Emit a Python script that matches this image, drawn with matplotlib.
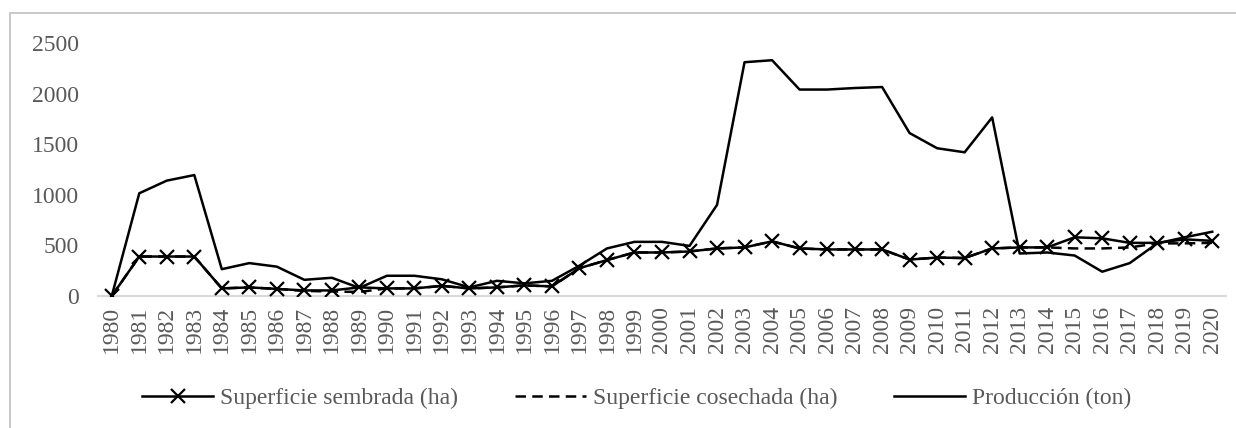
import matplotlib
matplotlib.use("Agg")
import matplotlib.pyplot as plt
from matplotlib.patches import Rectangle

plt.rcParams['font.family'] = ['Liberation Serif', 'DejaVu Serif']

years = list(range(1980, 2021))

# Superficie sembrada (ha)
sembrada = [0, 390, 390, 390, 75, 85, 70, 55, 55, 85,
            75, 75, 100, 75, 85, 105, 95, 275, 355, 430,
            430, 440, 470, 480, 540, 470, 460, 460, 460, 360,
            380, 375, 470, 480, 480, 580, 570, 525, 525, 560,
            545]

# Superficie cosechada (ha)
cosechada = [0, 390, 390, 390, 75, 85, 70, 50, 45, 40,
             75, 75, 100, 75, 85, 105, 95, 275, 355, 430,
             430, 440, 470, 480, 540, 470, 460, 460, 460, 360,
             380, 375, 470, 480, 480, 470, 470, 480, 520, 520,
             525]

# Produccion (ton)
produccion = [0, 1015, 1140, 1195, 265, 325, 290, 160, 180, 80,
              200, 200, 165, 85, 150, 125, 150, 300, 470, 535,
              535, 495, 900, 2310, 2330, 2040, 2040, 2055, 2065, 1610,
              1460, 1420, 1765, 420, 430, 400, 240, 325, 520, 580,
              635]

yticks = [0, 500, 1000, 1500, 2000, 2500]

grey = '#595959'

fig = plt.figure(figsize=(12.36, 4.28), dpi=100)
ax = fig.add_axes([98 / 1236, 1 - 296 / 428, 1128 / 1236, 253 / 428])

x = list(range(len(years)))
ax.plot(x, sembrada, color='black', lw=1.8, marker='x', markersize=10,
        markeredgewidth=1.6, label='Superficie sembrada (ha)', zorder=3)
ax.plot(x, cosechada, color='black', lw=1.8, linestyle=(0, (4.2, 2.5)),
        label='Superficie cosechada (ha)', zorder=2)
ax.plot(x, produccion, color='black', lw=1.8, label='Producción (ton)', zorder=2)

ax.set_xlim(-0.5, len(years) - 0.5)
ax.set_ylim(0, 2500)
ax.set_yticks(yticks)
ax.set_yticklabels([str(v) for v in yticks])
ax.set_xticks(x)
ax.set_xticklabels([str(y) for y in years], rotation=90)

for side in ['top', 'right', 'left']:
    ax.spines[side].set_visible(False)
ax.spines['bottom'].set_color('#d9d9d9')
ax.spines['bottom'].set_linewidth(1.5)
ax.spines['bottom'].set_zorder(1)

ax.tick_params(axis='both', length=0, labelsize=17, labelcolor=grey)
ax.tick_params(axis='y', pad=14)
ax.tick_params(axis='x', pad=7)

fig.legend(loc='center', bbox_to_anchor=(0.515, 1 - 398 / 428), ncol=3,
           frameon=False, fontsize=17, labelcolor=grey, handlelength=3.0,
           handletextpad=0.3, columnspacing=2.4)

# chart area border
fig.patches.append(Rectangle((10 / 1236, -0.1), 1.2, 1 - 13 / 428 + 0.1,
                             transform=fig.transFigure, fill=False,
                             edgecolor='#bfbfbf', lw=1.2))

fig.savefig('out.png', dpi=100)
